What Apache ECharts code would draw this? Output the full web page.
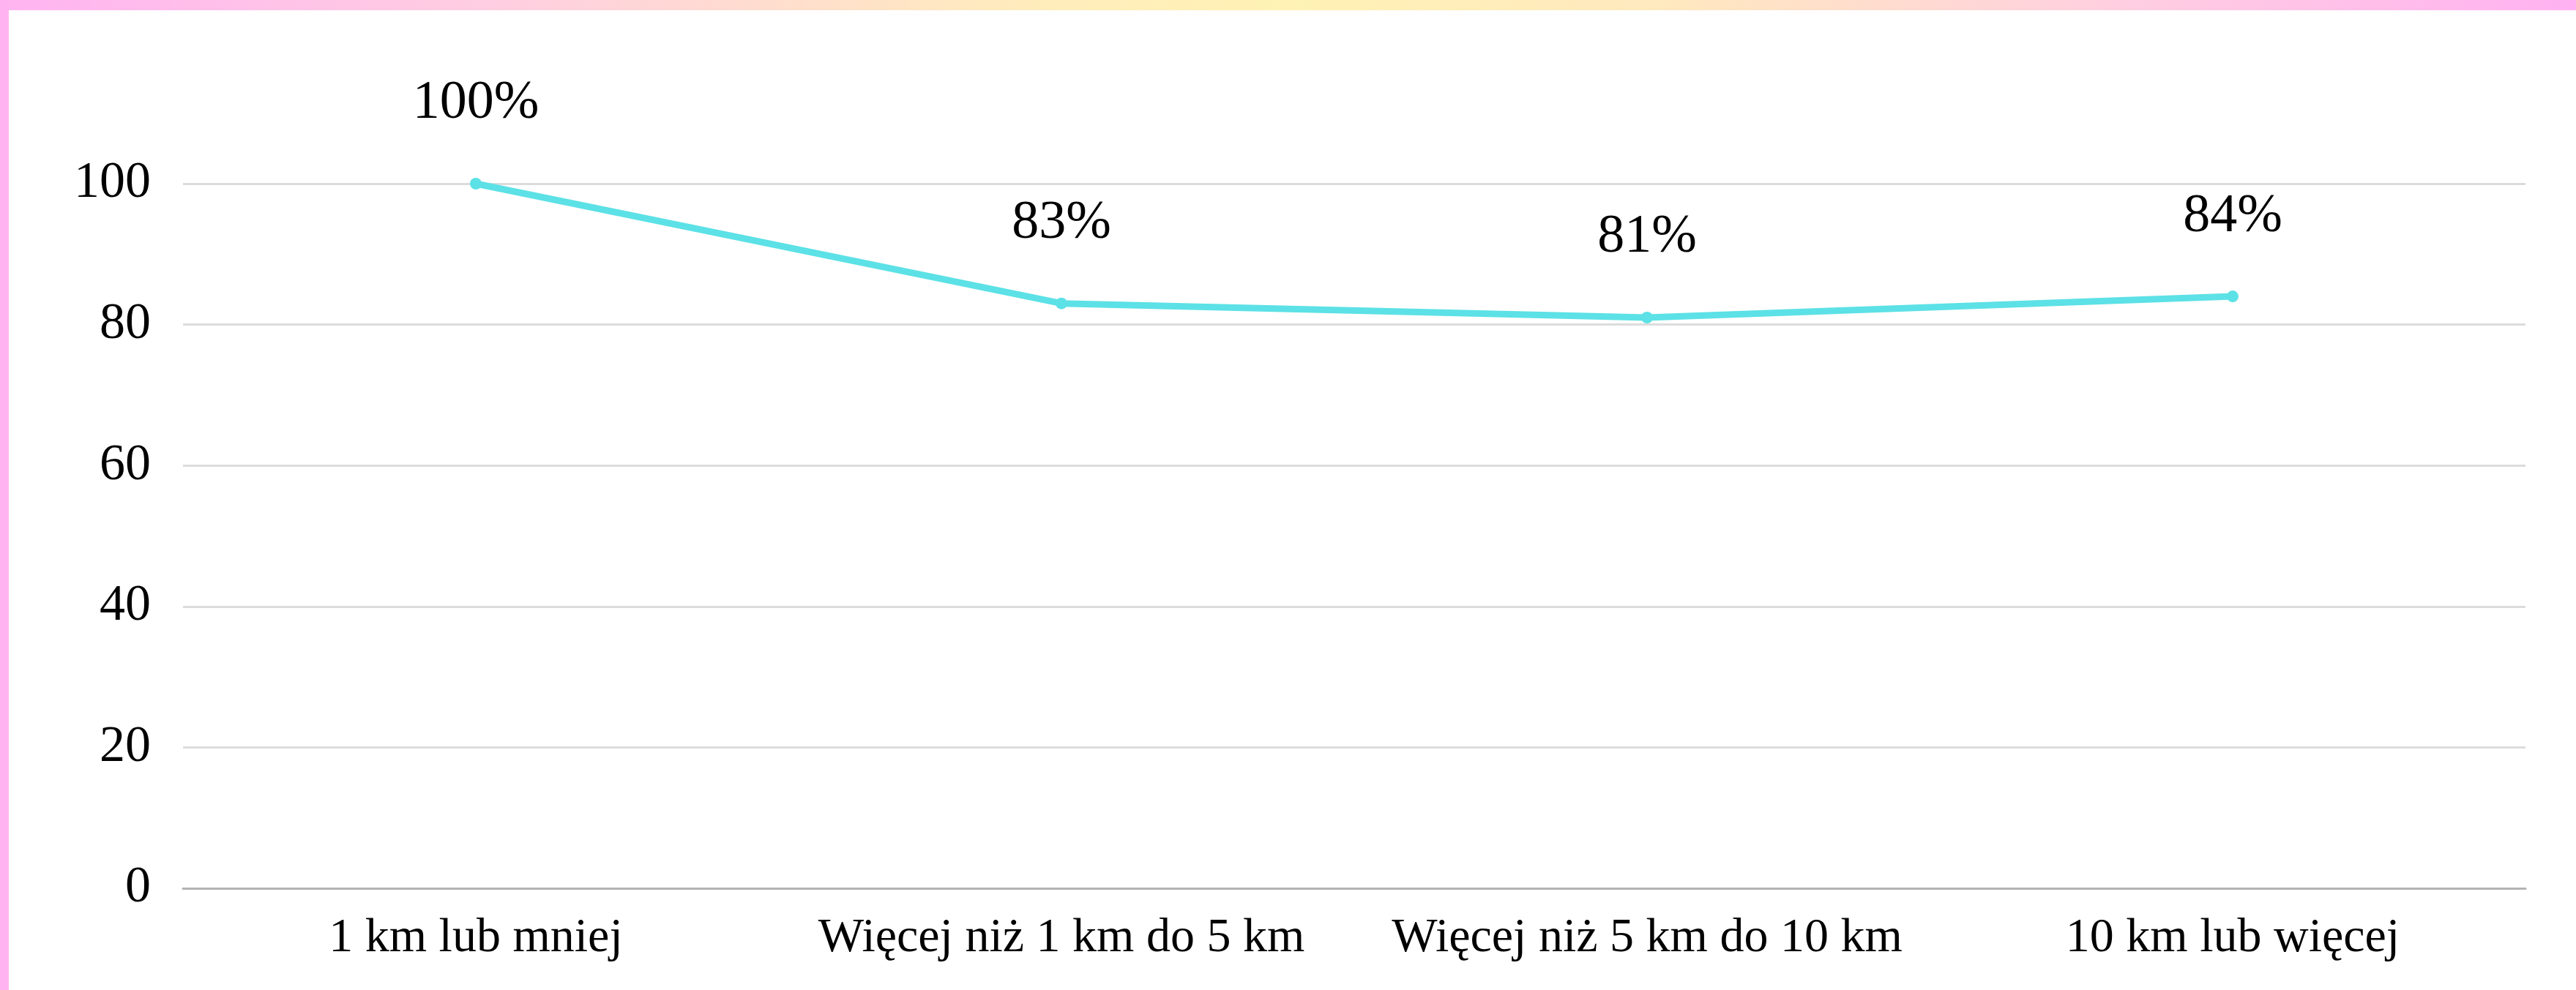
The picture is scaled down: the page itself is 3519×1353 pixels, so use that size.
<!DOCTYPE html>
<html>
<head>
<meta charset="utf-8">
<script src="https://cdn.jsdelivr.net/npm/echarts@6/dist/echarts.min.js"></script>
<style>
  html, body { margin: 0; padding: 0; background: #ffffff; }
  #chart { width: 3519px; height: 1353px; }
</style>
</head>
<body>
<div id="chart"></div>
<script>
// Distance bands and share of respondents (%)
const categories = ['1 km lub mniej', 'Więcej niż 1 km do 5 km', 'Więcej niż 5 km do 10 km', '10 km lub więcej'];
const shares = [100, 83, 81, 84];
const yTicks = { min: 0, max: 100, interval: 20 };

const FONT = '"Liberation Serif", "DejaVu Serif", serif';

const chart = echarts.init(document.getElementById('chart'), null, { renderer: 'canvas' });

chart.setOption({
  backgroundColor: '#ffffff',
  animation: false,
  graphic: [
    // decorative gradient strip along the top edge
    {
      type: 'rect',
      left: 0, top: 0,
      shape: { width: 3519, height: 14 },
      style: {
        fill: new echarts.graphic.LinearGradient(0, 0, 1, 0, [
          { offset: 0, color: '#ffb4f1' },
          { offset: 0.2, color: '#ffcfe0' },
          { offset: 0.4, color: '#ffecbc' },
          { offset: 0.5, color: '#fff2b4' },
          { offset: 0.65, color: '#ffe8bf' },
          { offset: 0.82, color: '#ffcfe0' },
          { offset: 1, color: '#ffb1f1' }
        ])
      },
      z: 10
    },
    // pink strip along the left edge
    {
      type: 'rect',
      left: 0, top: 0,
      shape: { width: 12, height: 1353 },
      style: { fill: '#ffb4f1' },
      z: 10
    }
  ],
  grid: { left: 250, right: 69, top: 251, bottom: 139, containLabel: false },
  xAxis: {
    type: 'category',
    data: categories,
    boundaryGap: true,
    axisLine: { show: true, lineStyle: { color: '#b3b3b3', width: 3 } },
    axisTick: { show: false },
    axisLabel: {
      interval: 0,
      color: '#000000',
      fontFamily: FONT,
      fontSize: 66,
      margin: 36
    },
    splitLine: { show: false }
  },
  yAxis: {
    type: 'value',
    min: yTicks.min,
    max: yTicks.max,
    interval: yTicks.interval,
    axisLine: { show: false },
    axisTick: { show: false },
    axisLabel: {
      color: '#000000',
      fontFamily: FONT,
      fontSize: 70,
      margin: 44
    },
    splitLine: { show: true, lineStyle: { color: '#dcdcdc', width: 3 } }
  },
  series: [
    {
      type: 'line',
      data: shares,
      symbol: 'circle',
      symbolSize: 16,
      lineStyle: { color: '#5ce1e6', width: 9 },
      itemStyle: { color: '#5ce1e6' },
      label: {
        show: true,
        position: 'top',
        distance: 64,
        color: '#000000',
        fontFamily: FONT,
        fontSize: 74,
        formatter: p => p.value + '%'
      }
    }
  ]
});
</script>
</body>
</html>
